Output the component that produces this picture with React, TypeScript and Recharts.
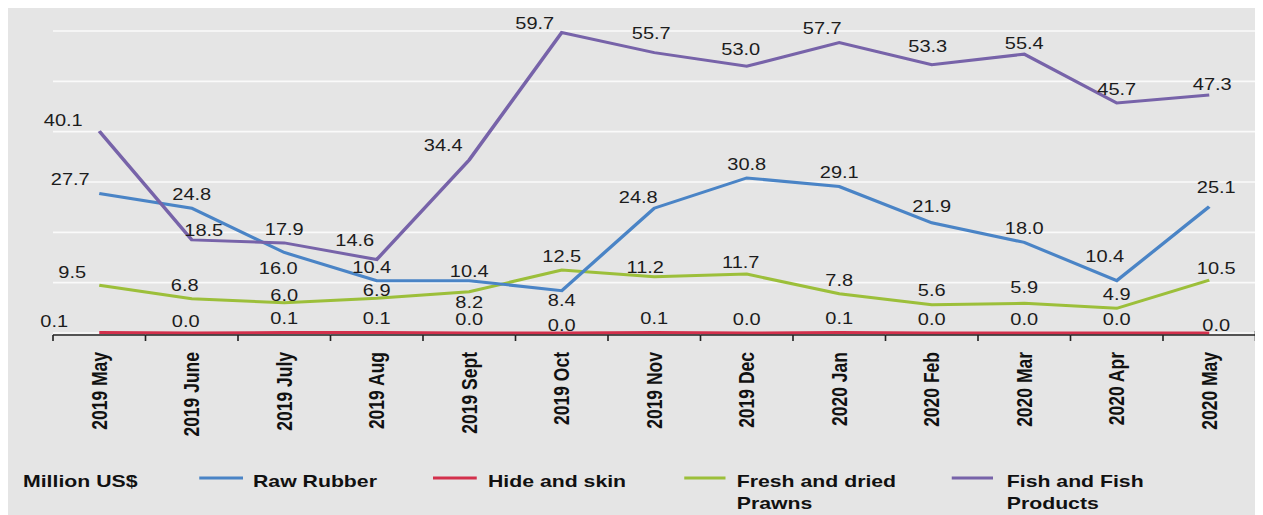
import React from 'react';
import { LineChart, Line, XAxis, YAxis, CartesianGrid, LabelList } from 'recharts';

const months = [
  '2019 May', '2019 June', '2019 July', '2019 Aug', '2019 Sept', '2019 Oct', '2019 Nov',
  '2019 Dec', '2020 Jan', '2020 Feb', '2020 Mar', '2020 Apr', '2020 May',
];
const rawRubber = [27.7, 24.8, 16.0, 10.4, 10.4, 8.4, 24.8, 30.8, 29.1, 21.9, 18.0, 10.4, 25.1];
const hideSkin = [0.1, 0.0, 0.1, 0.1, 0.0, 0.0, 0.1, 0.0, 0.1, 0.0, 0.0, 0.0, 0.0];
const prawns = [9.5, 6.8, 6.0, 6.9, 8.2, 12.5, 11.2, 11.7, 7.8, 5.6, 5.9, 4.9, 10.5];
const fish = [40.1, 18.5, 17.9, 14.6, 34.4, 59.7, 55.7, 53.0, 57.7, 53.3, 55.4, 45.7, 47.3];
const yTicks = [0, 10, 20, 30, 40, 50, 60];

const seriesNames = {
  rubber: 'Raw Rubber',
  hide: 'Hide and skin',
  prawns: 'Fresh and dried Prawns',
  fish: 'Fish and Fish Products',
};
const unitLabel = 'Million US$';

const COLORS: Record<string, string> = {
  rubber: '#4a84c6',
  hide: '#d3304c',
  prawns: '#9cbf3a',
  fish: '#7763a9',
};

const data = months.map((m, i) => ({
  month: m,
  rubber: rawRubber[i],
  hide: hideSkin[i],
  prawns: prawns[i],
  fish: fish[i],
}));

// horizontal stretch of the original picture
const SX = 1.25;
const W = 1000;
const H = 507;
const M = { top: 23, right: 2, left: 36, bottom: 42 };
const X_AXIS_H = 140;
const BAND = (W - M.left - M.right) / months.length;
const FONT = '"Liberation Sans", Arial, Helvetica, sans-serif';

// label nudges (screen px dx, dy relative to default position above the point)
const LABEL_NUDGE: Record<string, Record<number, [number, number]>> = {
  fish: { 0: [-36, 3], 1: [12, 4], 3: [-22, -5], 4: [-26, -1], 5: [-27, 5], 6: [-3, -5], 7: [-6, -3], 8: [-17, 0], 9: [-4, -5], 10: [0, 3], 12: [3, 3] },
  rubber: { 0: [-29, 0], 2: [-6, 30], 3: [-5, 1], 4: [0, 5], 5: [0, 23], 6: [-16, 3], 9: [0, -3], 11: [-12, -10], 12: [7, -5] },
  prawns: { 0: [-27, 1], 1: [-7, 0], 2: [0, 6], 3: [0, 6], 4: [0, 24], 6: [-9, 5], 7: [-6, 2], 9: [0, -1], 10: [0, -2], 12: [7, 2] },
  hide: { 0: [-45, 3], 1: [-6, 2], 5: [0, 6], 12: [7, 6] },
};

const makeLabel = (key: string) => (props: any) => {
  const { x, y, index, value } = props;
  if (x == null || y == null || value == null) return null;
  const n = (LABEL_NUDGE[key] && LABEL_NUDGE[key][index]) || [0, 0];
  const cx = x + n[0] / SX;
  const cy = y - 14 + n[1];
  return (
    <text
      x={cx}
      y={cy + 5.8}
      textAnchor="middle"
      fontFamily={FONT}
      fontSize={16}
      fill="#1c1c1c"
    >
      {Number(value).toFixed(1)}
    </text>
  );
};

const MonthTick = (props: any) => {
  const { x, y, payload, index } = props;
  const isLast = index === months.length - 1;
  const ay = y + 2;
  return (
    <g>
      <line x1={x - BAND / 2} x2={x + BAND / 2} y1={ay} y2={ay} stroke="#222" strokeWidth={1.5} />
      <line x1={x - BAND / 2} x2={x - BAND / 2} y1={ay} y2={ay + 6} stroke="#222" strokeWidth={1.3} />
      {isLast && (
        <line x1={x + BAND / 2} x2={x + BAND / 2} y1={ay - 4} y2={ay + 6} stroke="#222" strokeWidth={1.3} />
      )}
      <text
        transform={`translate(${x},${y + 19}) rotate(-90)`}
        textAnchor="end"
        dy="0.35em"
        fontFamily={FONT}
        fontWeight="bold"
        fontSize={17.5}
        fill="#111"
      >
        {payload.value}
      </text>
    </g>
  );
};

const LegendSvg = () => {
  const textProps = { fontFamily: FONT, fontWeight: 'bold' as const, fontSize: 17, fill: '#111' };
  const lineY = 470;
  const base = 479;
  const lh = 22;
  return (
    <svg width={W} height={H} style={{ position: 'absolute', left: 0, top: 0, pointerEvents: 'none' }}>
      <text x={12} y={base} {...textProps}>{unitLabel}</text>

      <line x1={153} x2={188} y1={lineY} y2={lineY} stroke={COLORS.rubber} strokeWidth={3} />
      <text x={196} y={base} {...textProps}>{seriesNames.rubber}</text>

      <line x1={340} x2={375} y1={lineY} y2={lineY} stroke={COLORS.hide} strokeWidth={3} />
      <text x={384} y={base} {...textProps}>{seriesNames.hide}</text>

      <line x1={541} x2={574} y1={lineY} y2={lineY} stroke={COLORS.prawns} strokeWidth={3} />
      <text x={583} y={base} {...textProps}>
        <tspan x={583}>Fresh and dried</tspan>
        <tspan x={583} dy={lh}>Prawns</tspan>
      </text>

      <line x1={755} x2={788} y1={lineY} y2={lineY} stroke={COLORS.fish} strokeWidth={3} />
      <text x={799} y={base} {...textProps}>
        <tspan x={799}>Fish and Fish</tspan>
        <tspan x={799} dy={lh}>Products</tspan>
      </text>
    </svg>
  );
};

export default function App() {
  return (
    <div style={{ width: 1250, height: 507, background: '#e5e5e5', position: 'relative', overflow: 'hidden' }}>
      <div
        style={{
          position: 'absolute',
          left: 0,
          top: 0,
          width: W,
          height: H,
          transform: `scaleX(${SX})`,
          transformOrigin: '0 0',
        }}
      >
        <LineChart width={W} height={H} data={data} margin={M}>
          <CartesianGrid vertical={false} stroke="#fafafa" strokeWidth={1.6} />
          <YAxis hide domain={[0, 60]} ticks={yTicks} type="number" />
          <XAxis
            dataKey="month"
            scale="band"
            height={X_AXIS_H}
            interval={0}
            tickLine={false}
            tickSize={0}
            tickMargin={0}
            axisLine={false}
            tick={<MonthTick />}
          />
          <Line dataKey="hide" name={seriesNames.hide} stroke={COLORS.hide} strokeWidth={3} dot={false} activeDot={false} isAnimationActive={false}>
            <LabelList dataKey="hide" content={makeLabel('hide')} />
          </Line>
          <Line dataKey="prawns" name={seriesNames.prawns} stroke={COLORS.prawns} strokeWidth={3} dot={false} activeDot={false} isAnimationActive={false}>
            <LabelList dataKey="prawns" content={makeLabel('prawns')} />
          </Line>
          <Line dataKey="rubber" name={seriesNames.rubber} stroke={COLORS.rubber} strokeWidth={3} dot={false} activeDot={false} isAnimationActive={false}>
            <LabelList dataKey="rubber" content={makeLabel('rubber')} />
          </Line>
          <Line dataKey="fish" name={seriesNames.fish} stroke={COLORS.fish} strokeWidth={3} dot={false} activeDot={false} isAnimationActive={false}>
            <LabelList dataKey="fish" content={makeLabel('fish')} />
          </Line>
        </LineChart>
        <LegendSvg />
      </div>
    </div>
  );
}
